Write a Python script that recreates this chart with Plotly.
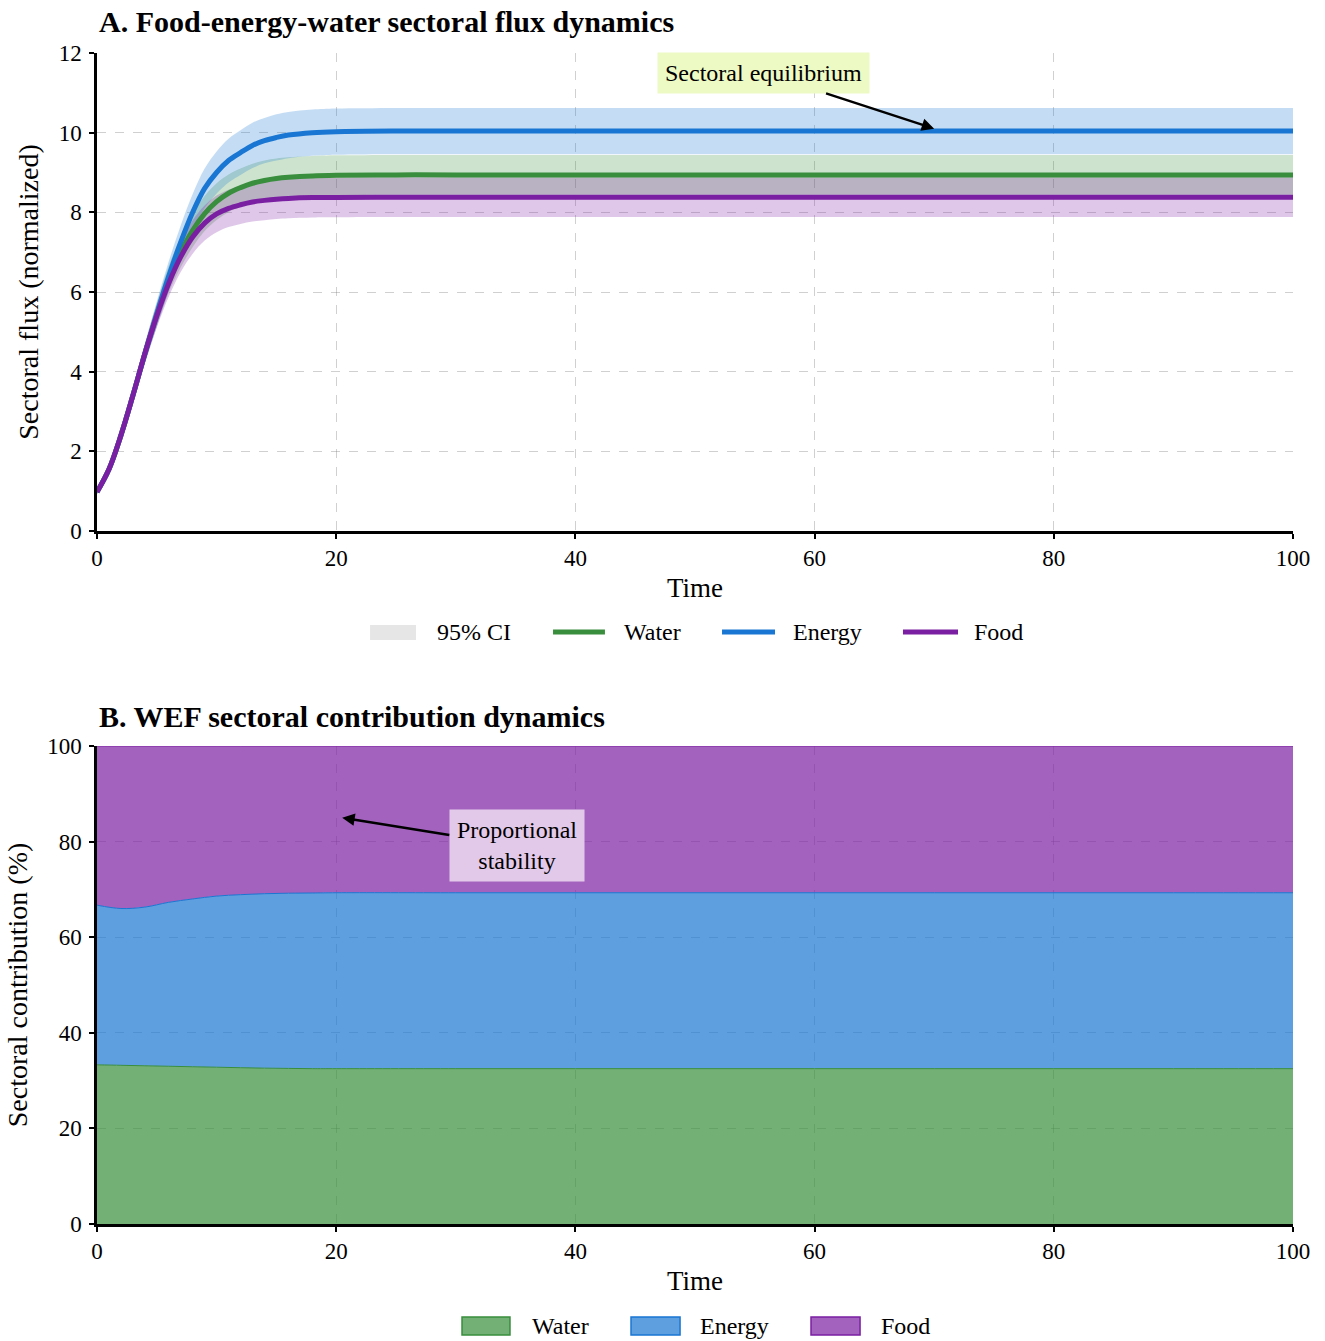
import plotly.graph_objects as go

# ---------------- Data ----------------
# Panel A: sectoral flux (normalized)
t_a = [0, 1, 2, 3, 4, 5, 6, 7, 8, 9, 10, 11, 12, 13, 14, 15, 16, 18, 20, 25, 30, 40, 50, 60, 70, 80, 90, 100]
energy = [0.98, 1.55, 2.4, 3.4, 4.45, 5.45, 6.4, 7.25, 8.0, 8.6, 9.0, 9.3, 9.5, 9.68, 9.8, 9.88, 9.94, 10.0, 10.025, 10.04,
          10.04, 10.04, 10.04, 10.04, 10.04, 10.04, 10.04, 10.04]
water = [0.98, 1.55, 2.4, 3.4, 4.45, 5.43, 6.32, 7.0, 7.55, 7.97, 8.27, 8.48, 8.62, 8.73, 8.8, 8.85, 8.88, 8.915, 8.93, 8.94,
         8.94, 8.94, 8.94, 8.94, 8.94, 8.94, 8.94, 8.94]
food = [0.98, 1.55, 2.4, 3.4, 4.45, 5.4, 6.22, 6.88, 7.38, 7.73, 7.96, 8.1, 8.19, 8.26, 8.3, 8.33, 8.35, 8.37, 8.375, 8.38,
        8.38, 8.38, 8.38, 8.38, 8.38, 8.38, 8.38, 8.38]
# 95% CI half-widths
energy_hw = [0.06, 0.09, 0.14, 0.2, 0.26, 0.32, 0.37, 0.42, 0.46, 0.5, 0.53, 0.55, 0.56, 0.57, 0.57, 0.58, 0.58, 0.58, 0.58,
             0.58, 0.58, 0.58, 0.58, 0.58, 0.58, 0.58, 0.58, 0.58]
water_hw = [0.05, 0.08, 0.13, 0.18, 0.24, 0.29, 0.34, 0.38, 0.42, 0.44, 0.46, 0.47, 0.48, 0.49, 0.5, 0.5, 0.5, 0.5, 0.5,
            0.5, 0.5, 0.5, 0.5, 0.5, 0.5, 0.5, 0.5, 0.5]
food_hw = [0.05, 0.08, 0.13, 0.18, 0.24, 0.29, 0.34, 0.38, 0.42, 0.44, 0.46, 0.47, 0.48, 0.49, 0.5, 0.5, 0.5, 0.5, 0.5,
           0.5, 0.5, 0.5, 0.5, 0.5, 0.5, 0.5, 0.5, 0.5]

# Panel B: sectoral contribution (%)
t_b = [0, 2, 4, 6, 8, 10, 12, 14, 16, 18, 20, 30, 40, 50, 60, 70, 80, 90, 100]
water_pct = [33.3, 33.2, 33.1, 33.0, 32.9, 32.8, 32.7, 32.6, 32.55, 32.5, 32.5, 32.5, 32.5, 32.5, 32.5, 32.5, 32.5, 32.5, 32.5]
energy_pct = [33.4, 32.8, 33.2, 34.3, 35.1, 35.8, 36.2, 36.5, 36.65, 36.75, 36.8, 36.8, 36.8, 36.8, 36.8, 36.8, 36.8, 36.8, 36.8]
food_pct = [33.3, 34.0, 33.7, 32.7, 32.0, 31.4, 31.1, 30.9, 30.8, 30.75, 30.7, 30.7, 30.7, 30.7, 30.7, 30.7, 30.7, 30.7, 30.7]

series_names = ["Water", "Energy", "Food"]
colors = {"Water": "#388E3C", "Energy": "#1976D2", "Food": "#7B1FA2"}
band_colors = {"Water": "rgba(56,142,60,0.25)", "Energy": "rgba(25,118,210,0.25)", "Food": "rgba(123,31,162,0.25)"}
area_colors = {"Water": "rgba(56,142,60,0.7)", "Energy": "rgba(25,118,210,0.7)", "Food": "rgba(123,31,162,0.7)"}

FONT = "Liberation Serif, Times New Roman, serif"

fig = go.Figure()

flux = {"Water": water, "Energy": energy, "Food": food}
hws = {"Water": water_hw, "Energy": energy_hw, "Food": food_hw}

# CI bands
for name in series_names:
    lo = [v - h for v, h in zip(flux[name], hws[name])]
    hi = [v + h for v, h in zip(flux[name], hws[name])]
    fig.add_trace(go.Scatter(x=t_a, y=lo, mode="lines", line=dict(width=0, shape="spline"),
                             showlegend=False, hoverinfo="skip", xaxis="x", yaxis="y"))
    fig.add_trace(go.Scatter(x=t_a, y=hi, mode="lines", line=dict(width=0, shape="spline"),
                             fill="tonexty", fillcolor=band_colors[name], name=name + " 95% CI",
                             showlegend=False, hoverinfo="skip", xaxis="x", yaxis="y"))

for name in series_names:
    fig.add_trace(go.Scatter(x=t_a, y=flux[name], mode="lines", name=name, showlegend=False,
                             line=dict(color=colors[name], width=5, shape="spline"),
                             xaxis="x", yaxis="y"))

# Panel B stacked areas
pct = {"Water": water_pct, "Energy": energy_pct, "Food": food_pct}
for name in series_names:
    fig.add_trace(go.Scatter(x=t_b, y=pct[name], mode="lines", name=name, stackgroup="one", showlegend=False,
                             line=dict(color=colors[name], width=1, shape="spline"),
                             fillcolor=area_colors[name], xaxis="x2", yaxis="y2"))

axis_common = dict(
    showline=True, linecolor="black", linewidth=2.5, ticks="outside", ticklen=5, tickwidth=1.5,
    tickcolor="black", showgrid=True, gridcolor="rgba(120,120,120,0.35)", griddash="dash", gridwidth=1,
    zeroline=False, tickfont=dict(family=FONT, size=23, color="black"), mirror=False,
    layer="above traces", automargin=False,
)

fig.update_layout(
    width=1325, height=1341,
    margin=dict(l=97, r=32, t=53, b=117, autoexpand=False),
    plot_bgcolor="white", paper_bgcolor="white",
    font=dict(family=FONT, size=23, color="black"),
    xaxis=dict(domain=[0, 1], range=[0, 100], tickvals=[0, 20, 40, 60, 80, 100], anchor="y",
               title=dict(text="Time", font=dict(family=FONT, size=27), standoff=8), **axis_common),
    yaxis=dict(domain=[0.5918, 1.0], range=[0, 12], tickvals=[0, 2, 4, 6, 8, 10, 12], anchor="x",
               ticklabelstandoff=3,
               title=dict(text="Sectoral flux (normalized)", font=dict(family=FONT, size=28), standoff=12),
               **axis_common),
    xaxis2=dict(domain=[0, 1], range=[0, 100], tickvals=[0, 20, 40, 60, 80, 100], anchor="y2",
                title=dict(text="Time", font=dict(family=FONT, size=27), standoff=8), **axis_common),
    yaxis2=dict(domain=[0, 0.4082], range=[0, 100], tickvals=[0, 20, 40, 60, 80, 100], anchor="x2",
                ticklabelstandoff=3,
                title=dict(text="Sectoral contribution (%)", font=dict(family=FONT, size=28), standoff=12),
                **axis_common),
    showlegend=False,
)

annotations = [
    dict(text="<b>A. Food-energy-water sectoral flux dynamics</b>", xref="paper", yref="paper",
         x=0, y=1.0265, xanchor="left", yanchor="middle", showarrow=False,
         font=dict(family=FONT, size=30, color="black")),
    dict(text="<b>B. WEF sectoral contribution dynamics</b>", xref="paper", yref="paper",
         x=0, y=0.4338, xanchor="left", yanchor="middle", showarrow=False,
         font=dict(family=FONT, size=30, color="black")),
    dict(text="Sectoral equilibrium", xref="x", yref="y", x=70, y=10.1, axref="x", ayref="y",
         ax=55.7, ay=11.5, showarrow=True, arrowhead=2, arrowsize=1, arrowwidth=2.5, arrowcolor="black",
         bgcolor="#eefac4", borderpad=7, font=dict(family=FONT, size=24, color="black")),
    dict(text="Proportional<br>stability", xref="x2", yref="y2", x=20.5, y=85, axref="x2", ayref="y2",
         ax=35.1, ay=79.1, showarrow=True, arrowhead=2, arrowsize=1, arrowwidth=2.5, arrowcolor="black",
         bgcolor="#e3c9e9", borderpad=7, font=dict(family=FONT, size=24, color="black")),
]

shapes = []
# Legend A (paper coords): patch for CI, line symbols for series
leg_a_y = 0.5055
shapes.append(dict(type="rect", xref="paper", yref="paper", x0=0.2283, x1=0.2667, y0=0.4987, y1=0.5115,
                   fillcolor="#e6e6e6", line=dict(width=0)))
annotations.append(dict(text="95% CI", xref="paper", yref="paper", x=0.2826, y=leg_a_y, xanchor="left",
                        yanchor="middle", showarrow=False, font=dict(family=FONT, size=24, color="black")))
leg_a_pos = {"Water": (0.3813, 0.4247, 0.4390), "Energy": (0.5226, 0.5669, 0.5803), "Food": (0.6739, 0.7199, 0.7316)}
for name in series_names:
    x0, x1, xt = leg_a_pos[name]
    shapes.append(dict(type="line", xref="paper", yref="paper", x0=x0, x1=x1, y0=leg_a_y, y1=leg_a_y,
                       line=dict(color=colors[name], width=5)))
    annotations.append(dict(text=name, xref="paper", yref="paper", x=xt, y=leg_a_y, xanchor="left",
                            yanchor="middle", showarrow=False, font=dict(family=FONT, size=24, color="black")))

# Legend B
leg_b_y = -0.0871
leg_b_pos = {"Water": (0.3052, 0.3453, 0.3620), "Energy": (0.4465, 0.4875, 0.5025), "Food": (0.5970, 0.6380, 0.6538)}
for name in series_names:
    x0, x1, xt = leg_b_pos[name]
    shapes.append(dict(type="rect", xref="paper", yref="paper", x0=x0, x1=x1, y0=-0.0948, y1=-0.0794,
                       fillcolor=area_colors[name], line=dict(color=colors[name], width=1.5)))
    annotations.append(dict(text=name, xref="paper", yref="paper", x=xt, y=leg_b_y, xanchor="left",
                            yanchor="middle", showarrow=False, font=dict(family=FONT, size=24, color="black")))

fig.update_layout(annotations=annotations, shapes=shapes)

fig.write_html("out.html", config={"displayModeBar": False},
               post_script="document.body.style.margin='0';")
